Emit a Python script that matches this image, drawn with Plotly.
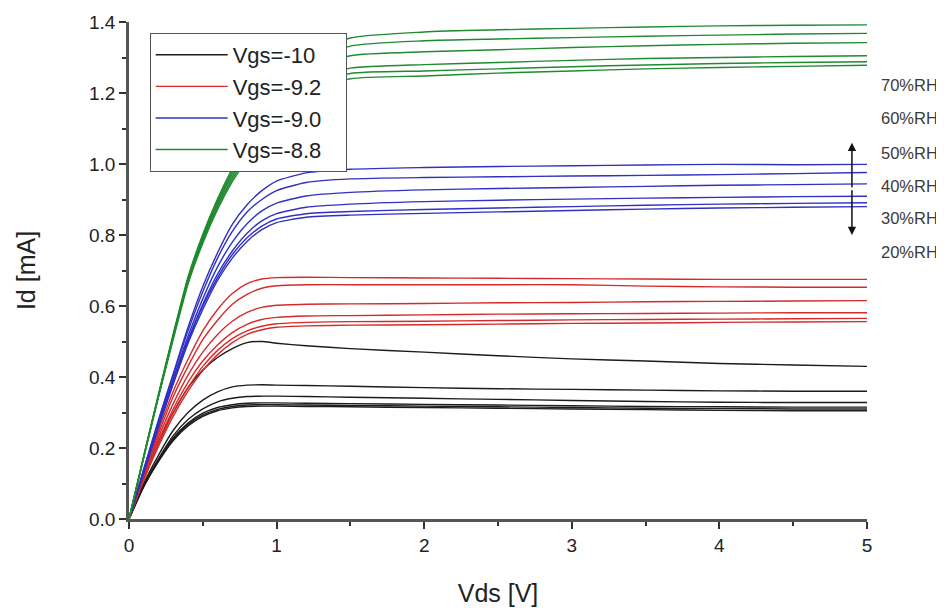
import plotly.graph_objects as go

# Drain voltage sample points [V]
vds = [0, 0.1, 0.2, 0.3, 0.4, 0.5, 0.6, 0.7, 0.8, 0.9, 1.0, 1.2, 1.5, 2.0, 2.5, 3.0, 3.5, 4.0, 4.5, 5.0]

# Vgs = -10 (six humidity levels)
id_m10 = [
    [0, 0.120, 0.220, 0.300, 0.370, 0.420, 0.455, 0.480, 0.497, 0.500, 0.495, 0.488, 0.480, 0.470, 0.460, 0.451, 0.445, 0.438, 0.434, 0.430],
    [0, 0.100, 0.180, 0.250, 0.300, 0.335, 0.358, 0.372, 0.377, 0.378, 0.377, 0.376, 0.374, 0.370, 0.367, 0.365, 0.363, 0.361, 0.360, 0.360],
    [0, 0.095, 0.170, 0.235, 0.280, 0.310, 0.330, 0.340, 0.345, 0.346, 0.346, 0.345, 0.343, 0.340, 0.337, 0.334, 0.331, 0.329, 0.328, 0.328],
    [0, 0.093, 0.166, 0.228, 0.270, 0.298, 0.314, 0.322, 0.326, 0.327, 0.327, 0.326, 0.325, 0.323, 0.321, 0.319, 0.317, 0.316, 0.315, 0.315],
    [0, 0.092, 0.164, 0.224, 0.266, 0.293, 0.309, 0.317, 0.321, 0.322, 0.322, 0.321, 0.320, 0.318, 0.316, 0.314, 0.312, 0.311, 0.310, 0.310],
    [0, 0.091, 0.162, 0.221, 0.262, 0.289, 0.305, 0.313, 0.317, 0.318, 0.318, 0.317, 0.316, 0.314, 0.312, 0.310, 0.308, 0.306, 0.305, 0.305],
]

# Vgs = -9.2
id_m92 = [
    [0, 0.130, 0.250, 0.360, 0.450, 0.530, 0.590, 0.635, 0.663, 0.676, 0.680, 0.681, 0.680, 0.679, 0.678, 0.677, 0.676, 0.675, 0.675, 0.675],
    [0, 0.125, 0.240, 0.345, 0.430, 0.505, 0.560, 0.605, 0.633, 0.650, 0.657, 0.660, 0.660, 0.660, 0.660, 0.660, 0.656, 0.654, 0.653, 0.653],
    [0, 0.120, 0.230, 0.325, 0.405, 0.470, 0.520, 0.557, 0.582, 0.596, 0.602, 0.605, 0.606, 0.607, 0.609, 0.610, 0.612, 0.613, 0.614, 0.615],
    [0, 0.115, 0.220, 0.310, 0.385, 0.445, 0.490, 0.525, 0.548, 0.562, 0.568, 0.572, 0.573, 0.575, 0.577, 0.578, 0.579, 0.580, 0.581, 0.581],
    [0, 0.110, 0.210, 0.300, 0.370, 0.430, 0.475, 0.508, 0.530, 0.543, 0.550, 0.554, 0.556, 0.557, 0.559, 0.561, 0.562, 0.563, 0.564, 0.565],
    [0, 0.110, 0.205, 0.290, 0.360, 0.418, 0.463, 0.497, 0.520, 0.533, 0.540, 0.544, 0.546, 0.547, 0.549, 0.551, 0.552, 0.554, 0.555, 0.556],
]

# Vgs = -9.0
id_m90 = [
    [0, 0.140, 0.280, 0.410, 0.540, 0.655, 0.750, 0.830, 0.885, 0.925, 0.952, 0.975, 0.985, 0.990, 0.993, 0.995, 0.997, 0.999, 0.998, 0.999],
    [0, 0.140, 0.275, 0.405, 0.530, 0.640, 0.735, 0.810, 0.865, 0.900, 0.925, 0.948, 0.958, 0.962, 0.964, 0.966, 0.968, 0.970, 0.973, 0.976],
    [0, 0.135, 0.270, 0.395, 0.515, 0.620, 0.710, 0.780, 0.832, 0.868, 0.890, 0.910, 0.920, 0.927, 0.931, 0.934, 0.937, 0.940, 0.942, 0.944],
    [0, 0.135, 0.265, 0.390, 0.505, 0.605, 0.690, 0.755, 0.805, 0.840, 0.860, 0.878, 0.887, 0.894, 0.898, 0.901, 0.904, 0.906, 0.908, 0.909],
    [0, 0.130, 0.260, 0.385, 0.500, 0.600, 0.680, 0.745, 0.792, 0.825, 0.845, 0.860, 0.866, 0.872, 0.876, 0.880, 0.884, 0.887, 0.889, 0.891],
    [0, 0.130, 0.260, 0.380, 0.495, 0.590, 0.672, 0.735, 0.782, 0.815, 0.835, 0.850, 0.856, 0.861, 0.865, 0.869, 0.873, 0.876, 0.878, 0.880],
]

# Vgs = -8.8
id_m88 = [
    [0, 0.178, 0.352, 0.522, 0.682, 0.802, 0.902, 0.988, 1.062, 1.132, 1.200, 1.300, 1.355, 1.372, 1.378, 1.382, 1.386, 1.389, 1.391, 1.392],
    [0, 0.177, 0.350, 0.519, 0.678, 0.797, 0.896, 0.980, 1.052, 1.120, 1.185, 1.282, 1.332, 1.347, 1.352, 1.356, 1.360, 1.363, 1.366, 1.368],
    [0, 0.176, 0.349, 0.516, 0.674, 0.792, 0.890, 0.972, 1.042, 1.108, 1.170, 1.262, 1.305, 1.316, 1.322, 1.328, 1.333, 1.337, 1.340, 1.342],
    [0, 0.175, 0.347, 0.513, 0.670, 0.787, 0.884, 0.964, 1.032, 1.095, 1.152, 1.235, 1.270, 1.280, 1.286, 1.292, 1.297, 1.300, 1.303, 1.305],
    [0, 0.174, 0.346, 0.510, 0.666, 0.782, 0.878, 0.957, 1.023, 1.084, 1.138, 1.218, 1.255, 1.262, 1.268, 1.274, 1.279, 1.283, 1.286, 1.288],
    [0, 0.173, 0.344, 0.507, 0.662, 0.777, 0.872, 0.950, 1.014, 1.073, 1.125, 1.203, 1.240, 1.248, 1.256, 1.262, 1.268, 1.272, 1.275, 1.278],
]

group_names = ["Vgs=-10", "Vgs=-9.2", "Vgs=-9.0", "Vgs=-8.8"]
group_data = [id_m10, id_m92, id_m90, id_m88]
group_colors = ["#1c1c1c", "#d42a2a", "#3030c4", "#1f8a2f"]

rh_labels = ["70%RH", "60%RH", "50%RH", "40%RH", "30%RH", "20%RH"]
rh_label_y = [1.222, 1.130, 1.031, 0.938, 0.848, 0.752]

font_family = "Liberation Sans, Arial, sans-serif"

fig = go.Figure()
for name, curves, color in zip(group_names, group_data, group_colors):
    for i, ys in enumerate(curves):
        fig.add_trace(go.Scatter(
            x=vds, y=ys, mode="lines", name=name + "\u00a0\u00a0\u00a0", legendgroup=name,
            showlegend=(i == 0),
            line=dict(color=color, width=1.4, shape="spline", smoothing=0.6),
        ))

annotations = []
for lbl, yv in zip(rh_labels, rh_label_y):
    annotations.append(dict(
        x=1.0165, xref="paper", y=yv, yref="y", text=lbl, showarrow=False,
        xanchor="left", yanchor="middle",
        font=dict(family=font_family, size=16.5, color="#3a3a3a"),
    ))
# double-headed arrow
for tip_y in (1.06, 0.80):
    annotations.append(dict(
        x=4.898, y=tip_y, xref="x", yref="y", ax=4.898, ay=0.93,
        axref="x", ayref="y", showarrow=True, arrowhead=2, arrowsize=1.1,
        arrowwidth=1.5, arrowcolor="#111111", text="",
    ))

fig.update_layout(
    width=944, height=613,
    margin=dict(l=121, r=85, t=14, b=102),
    paper_bgcolor="white", plot_bgcolor="white",
    font=dict(family=font_family, color="#222222"),
    showlegend=True,
    legend=dict(
        x=0.028, y=0.978, xanchor="left", yanchor="top",
        bgcolor="white", bordercolor="#555555", borderwidth=1,
        font=dict(family=font_family, size=22, color="#222222"),
        tracegroupgap=0, itemwidth=72,
    ),
    annotations=annotations,
    xaxis=dict(
        range=[0, 5], tickvals=[0, 1, 2, 3, 4, 5], ticks="outside", ticklen=7,
        tickwidth=1.5, tickcolor="#333333", automargin=False,
        showline=True, linecolor="#555555", linewidth=2.5, showgrid=False,
        zeroline=False, tickfont=dict(size=19, family=font_family, color="#222222"),
        minor=dict(tickvals=[0.5, 1.5, 2.5, 3.5, 4.5], ticks="outside", ticklen=4, tickcolor="#333333"),
        title=dict(text="Vds [V]", font=dict(size=25, family=font_family, color="#222222"), standoff=30),
    ),
    yaxis=dict(
        range=[0, 1.4], tickvals=[0, 0.2, 0.4, 0.6, 0.8, 1.0, 1.2, 1.4], tickformat=".1f",
        ticks="outside", ticklen=7, tickwidth=1.5, tickcolor="#333333", automargin=False,
        showline=True, linecolor="#555555", linewidth=2.5, showgrid=False,
        zeroline=False, tickfont=dict(size=19, family=font_family, color="#222222"),
        minor=dict(tickvals=[0.1, 0.3, 0.5, 0.7, 0.9, 1.1, 1.3], ticks="outside", ticklen=4, tickcolor="#333333"),
        title=dict(text="Id [mA]", font=dict(size=25, family=font_family, color="#222222"), standoff=47),
    ),
)

fig.write_html("out.html")
